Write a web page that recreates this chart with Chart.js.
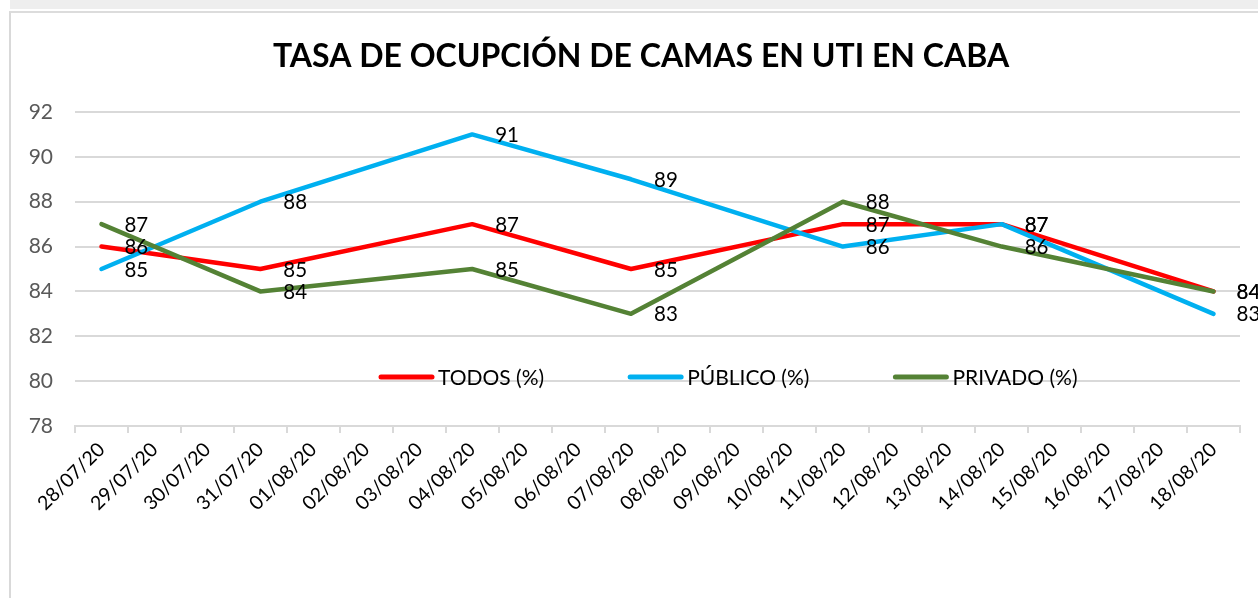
<!DOCTYPE html>
<html>
<head>
<meta charset="utf-8">
<script src="https://cdn.jsdelivr.net/npm/chart.js@4/dist/chart.umd.min.js"></script>
<style>
  html, body { margin: 0; padding: 0; background: #ffffff; width: 1258px; height: 598px; overflow: hidden; }
  #band { position: absolute; left: 10px; top: 0; width: 1248px; height: 9px; background: #eeeeee; }
  #frame { position: absolute; left: 9px; top: 11px; width: 1260px; height: 600px;
           border-left: 2px solid #d9d9d9; border-top: 2px solid #dcdcdc; }
  #c { position: absolute; left: 0; top: 0; }
</style>
</head>
<body>
<div id="band"></div>
<div id="frame"></div>
<canvas id="c" width="1258" height="598"></canvas>
<script>
const TITLE = 'TASA DE OCUPCIÓN DE CAMAS EN UTI EN CABA';
const CATEGORIES = ['28/07/20','29/07/20','30/07/20','31/07/20','01/08/20','02/08/20','03/08/20',
  '04/08/20','05/08/20','06/08/20','07/08/20','08/08/20','09/08/20','10/08/20','11/08/20',
  '12/08/20','13/08/20','14/08/20','15/08/20','16/08/20','17/08/20','18/08/20'];
const SERIES_NAMES = ['TODOS (%)', 'PÚBLICO (%)', 'PRIVADO (%)'];
const TODOS   = [86, null, null, 85, null, null, null, 87, null, null, 85, null, null, null, 87, null, null, 87, null, null, null, 84];
const PUBLICO = [85, null, null, 88, null, null, null, 91, null, null, 89, null, null, null, 86, null, null, 87, null, null, null, 83];
const PRIVADO = [87, null, null, 84, null, null, null, 85, null, null, 83, null, null, null, 88, null, null, 86, null, null, null, 84];
const Y_MIN = 78, Y_MAX = 92, Y_STEP = 2;

const COLORS = ['#ff0000', '#00b0f0', '#548235'];
const FONT = 'Lato';

const chartTitle = {
  id: 'chartTitle',
  afterDraw(chart) {
    const ctx = chart.ctx;
    ctx.save();
    ctx.font = 'bold 32px ' + FONT;
    ctx.fillStyle = '#000000';
    ctx.textAlign = 'center';
    ctx.textBaseline = 'middle';
    ctx.fillText(TITLE, 641, 57);
    ctx.restore();
  }
};

const dataLabels = {
  id: 'dataLabels',
  afterDatasetsDraw(chart) {
    const ctx = chart.ctx;
    ctx.save();
    ctx.font = '20.5px ' + FONT;
    ctx.fillStyle = '#000000';
    ctx.textAlign = 'left';
    ctx.textBaseline = 'middle';
    chart.data.datasets.forEach((ds, i) => {
      const meta = chart.getDatasetMeta(i);
      meta.data.forEach((pt, j) => {
        const v = ds.data[j];
        if (v === null || v === undefined) return;
        ctx.fillText(String(v), pt.x + 23, pt.y + 1);
      });
    });
    ctx.restore();
  }
};

const insideLegend = {
  id: 'insideLegend',
  afterDraw(chart) {
    const ctx = chart.ctx;
    const area = chart.chartArea;
    let x = area.left + 306;
    const y = area.top + 265;
    ctx.save();
    ctx.font = '21px ' + FONT;
    ctx.textAlign = 'left';
    ctx.textBaseline = 'middle';
    chart.data.datasets.forEach((ds) => {
      ctx.strokeStyle = ds.borderColor;
      ctx.lineWidth = 5;
      ctx.lineCap = 'round';
      ctx.beginPath();
      ctx.moveTo(x, y);
      ctx.lineTo(x + 51, y);
      ctx.stroke();
      ctx.fillStyle = '#000000';
      ctx.fillText(ds.label, x + 57, y + 1);
      x += 57 + ctx.measureText(ds.label).width + 86;
    });
    ctx.restore();
  }
};

const seriesData = [TODOS, PUBLICO, PRIVADO];
const datasets = seriesData.map((d, i) => ({
  label: SERIES_NAMES[i],
  data: d,
  borderColor: COLORS[i],
  backgroundColor: COLORS[i],
  borderWidth: 4.5,
  pointRadius: 0,
  pointHoverRadius: 0,
  spanGaps: true,
  tension: 0,
  fill: false,
  borderJoinStyle: 'round',
  borderCapStyle: 'round',
  order: 3 - i
}));

new Chart(document.getElementById('c'), {
  type: 'line',
  data: { labels: CATEGORIES, datasets },
  options: {
    responsive: false,
    animation: false,
    devicePixelRatio: 1,
    layout: { padding: { left: 10, right: 18, top: 112, bottom: 0 } },
    plugins: {
      legend: { display: false },
      tooltip: { enabled: false },
      title: { display: false }
    },
    scales: {
      x: {
        offset: true,
        grid: { display: true, drawOnChartArea: false, drawTicks: true, tickLength: 7, color: '#d9d9d9', lineWidth: 2, offset: true },
        border: { display: true, color: '#d9d9d9', width: 2 },
        ticks: { autoSkip: false, minRotation: 45, maxRotation: 45, padding: 5, color: '#000000', font: { family: FONT, size: 19.5 } },
        afterFit(s) { s.height = 172; }
      },
      y: {
        min: Y_MIN, max: Y_MAX,
        grid: { color: '#d9d9d9', lineWidth: 2, drawTicks: false },
        border: { display: false },
        ticks: { stepSize: Y_STEP, padding: 22, color: '#595959', font: { family: FONT, size: 21 } },
        afterFit(s) { s.width = 65; }
      }
    }
  },
  plugins: [dataLabels, insideLegend, chartTitle]
});
</script>
</body>
</html>
